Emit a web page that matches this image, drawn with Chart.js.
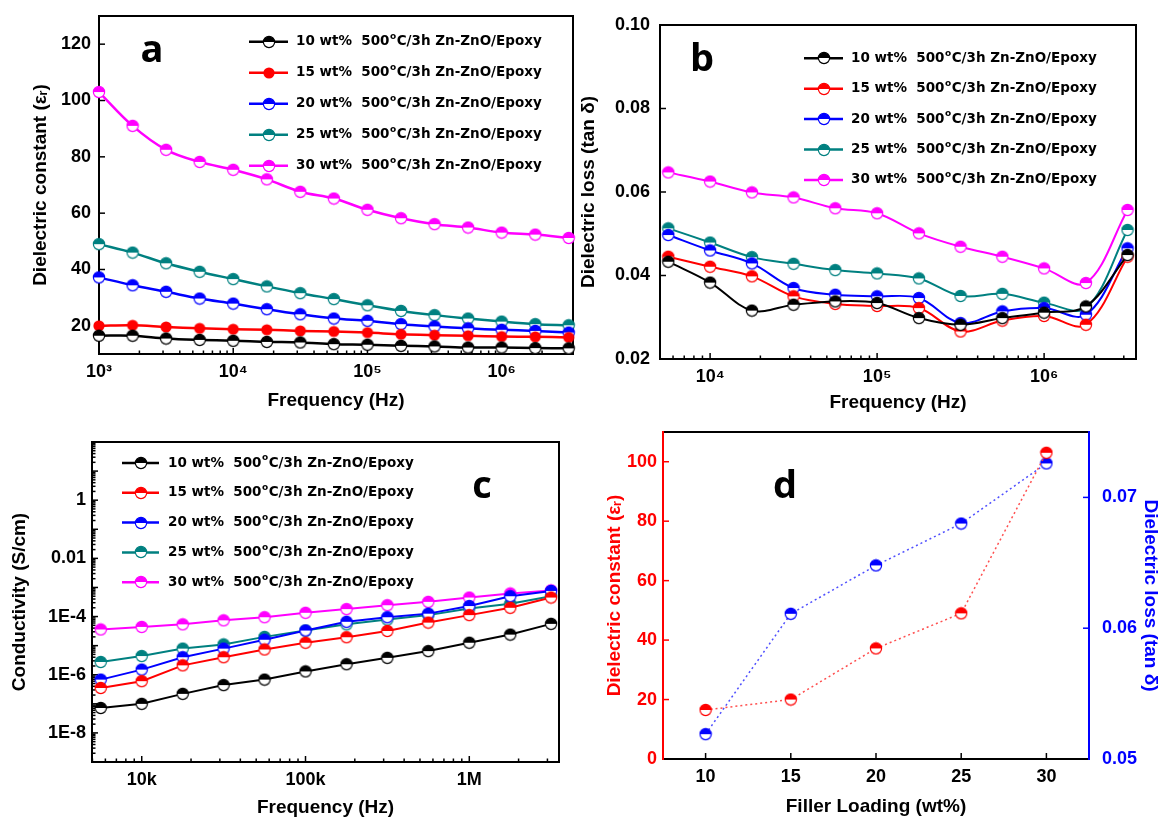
<!DOCTYPE html>
<html>
<head>
<meta charset="utf-8">
<title>Zn-ZnO/Epoxy dielectric properties</title>
<script src="https://cdn.jsdelivr.net/npm/chart.js@4.4.1/dist/chart.umd.min.js"></script>
<style>
  html, body { margin: 0; padding: 0; background: #ffffff; }
  #sheet { position: relative; width: 1163px; height: 821px; overflow: hidden; background: #ffffff; }
  #sheet canvas { position: absolute; }
</style>
</head>
<body>
<div id="sheet">
  <canvas id="panelA" width="580" height="415" style="left:0px;top:0px"></canvas>
  <canvas id="panelB" width="583" height="415" style="left:580px;top:0px"></canvas>
  <canvas id="panelC" width="580" height="406" style="left:0px;top:415px"></canvas>
  <canvas id="panelD" width="583" height="406" style="left:580px;top:415px"></canvas>
</div>
<script>
// ---- series description ----
const seriesNames  = ['10 wt%', '15 wt%', '20 wt%', '25 wt%', '30 wt%'];
const seriesColors = ['#000000', '#ff0000', '#0000ff', '#008080', '#ff00ff'];
const treatTemp = '500';
const treatSup  = 'o';
const treatTail = 'C/3h Zn-ZnO/Epoxy';

// ---- (a) dielectric constant vs frequency ----
const freqA = [1e3, 1.78e3, 3.16e3, 5.62e3, 1e4, 1.78e4, 3.16e4, 5.62e4, 1e5, 1.78e5, 3.16e5, 5.62e5, 1e6, 1.78e6, 3.16e6];
const eps10 = [16.5, 16.5, 15.5, 15.0, 14.7, 14.3, 14.1, 13.5, 13.3, 12.9, 12.7, 12.3, 12.3, 12.1, 12.0];
const eps15 = [20.0, 20.2, 19.6, 19.1, 18.8, 18.6, 18.2, 18.0, 17.6, 17.0, 16.7, 16.5, 16.2, 16.1, 15.9];
const eps20 = [37.2, 34.4, 32.1, 29.7, 27.9, 25.9, 24.1, 22.6, 21.8, 20.6, 19.8, 19.1, 18.6, 18.2, 17.6];
const eps25 = [49.0, 46.0, 42.2, 39.2, 36.6, 34.0, 31.6, 29.5, 27.3, 25.3, 23.8, 22.6, 21.5, 20.6, 20.2];
const eps30 = [103.0, 91.0, 82.5, 78.2, 75.4, 72.0, 67.6, 65.2, 61.2, 58.2, 56.1, 54.9, 53.1, 52.4, 51.2];

// ---- (b) dielectric loss and (c) conductivity vs frequency ----
const freqBC = [5.62e3, 1e4, 1.78e4, 3.16e4, 5.62e4, 1e5, 1.78e5, 3.16e5, 5.62e5, 1e6, 1.78e6, 3.16e6];
const loss10 = [0.0433, 0.0383, 0.0316, 0.0330, 0.0338, 0.0334, 0.0298, 0.0282, 0.0298, 0.0311, 0.0326, 0.0449];
const loss15 = [0.0445, 0.0421, 0.0398, 0.0350, 0.0332, 0.0327, 0.0322, 0.0266, 0.0292, 0.0303, 0.0282, 0.0445];
const loss20 = [0.0497, 0.0460, 0.0429, 0.0370, 0.0354, 0.0350, 0.0346, 0.0286, 0.0314, 0.0322, 0.0306, 0.0465];
const loss25 = [0.0513, 0.0479, 0.0444, 0.0428, 0.0413, 0.0405, 0.0393, 0.0351, 0.0356, 0.0335, 0.0322, 0.0509];
const loss30 = [0.0647, 0.0625, 0.0599, 0.0587, 0.0561, 0.0549, 0.0501, 0.0469, 0.0445, 0.0417, 0.0382, 0.0557];

const sig10 = [7.2e-8, 1.0e-7, 2.2e-7, 4.4e-7, 6.8e-7, 1.3e-6, 2.3e-6, 3.8e-6, 6.5e-6, 1.26e-5, 2.4e-5, 5.6e-5];
const sig15 = [3.5e-7, 6.0e-7, 2.1e-6, 4.0e-6, 7.4e-6, 1.26e-5, 1.95e-5, 3.2e-5, 6.2e-5, 1.12e-4, 2.0e-4, 4.5e-4];
const sig20 = [6.8e-7, 1.5e-6, 4.0e-6, 7.9e-6, 1.6e-5, 3.3e-5, 6.6e-5, 9.5e-5, 1.26e-4, 2.3e-4, 5.0e-4, 7.6e-4];
const sig25 = [2.75e-6, 4.4e-6, 7.9e-6, 1.1e-5, 2.0e-5, 3.3e-5, 5.4e-5, 7.9e-5, 1.12e-4, 1.9e-4, 2.75e-4, 5.0e-4];
const sig30 = [3.6e-5, 4.4e-5, 5.4e-5, 7.4e-5, 9.5e-5, 1.35e-4, 1.8e-4, 2.45e-4, 3.2e-4, 4.5e-4, 6.2e-4, 7.9e-4];

// ---- (d) values at 1 kHz vs filler loading ----
const loading = [10, 15, 20, 25, 30];
const epsAt1k  = [eps10[0], eps15[0], eps20[0], eps25[0], eps30[0]];
const lossAt1k = [0.0519, 0.0611, 0.0648, 0.0680, 0.0726];

// ---- tick values and labels ----
const decadeExpA = [3, 4, 5, 6];
const decadeLblA = ['10\u00b3', '10\u2074', '10\u2075', '10\u2076'];
const decadeExpB = [4, 5, 6];
const decadeLblB = ['10\u2074', '10\u2075', '10\u2076'];
const decadeExpCx = [4, 5, 6];
const decadeLblCx = ['10k', '100k', '1M'];
const decadeExpCy = [0, -2, -4, -6, -8];
const decadeLblCy = ['1', '0.01', '1E-4', '1E-6', '1E-8'];
const yTicksA  = [20, 40, 60, 80, 100, 120];
const yTicksB  = [0.02, 0.04, 0.06, 0.08, 0.10];
const xTicksD  = [10, 15, 20, 25, 30];
const yTicksD  = [0, 20, 40, 60, 80, 100];
const y1TicksD = [0.05, 0.06, 0.07];

// ---- shared styling ----
const SANS = "'Liberation Sans', Arial, 'DejaVu Sans', sans-serif";
const tickFont  = { family: SANS, size: 18, weight: 'bold' };
const titleFont = { family: SANS, size: 19, weight: 'bold', lineHeight: 1 };
Chart.defaults.font.family = SANS;

// circle marker, top half filled and bottom half open (or fully filled)
function marker(color, full) {
  const s = 14, m = s / 2, r = 5.6;
  const c = document.createElement('canvas');
  c.width = s; c.height = s;
  const g = c.getContext('2d');
  g.beginPath(); g.arc(m, m, r, 0, 2 * Math.PI);
  g.fillStyle = full ? color : '#ffffff'; g.fill();
  if (!full) {
    g.beginPath(); g.arc(m, m, r, Math.PI, 2 * Math.PI); g.closePath();
    g.fillStyle = color; g.fill();
    g.beginPath(); g.arc(m, m, r, 0, 2 * Math.PI);
    g.strokeStyle = color; g.lineWidth = 1.2; g.stroke();
  }
  return c;
}

function pts(xs, ys) { return xs.map((x, i) => ({ x: x, y: ys[i] })); }

function decadeLabel(exps, labels) {
  return function (value) {
    const lg = Math.log10(value);
    const k = Math.round(lg);
    if (Math.abs(lg - k) > 1e-6) return '';
    const i = exps.indexOf(k);
    return i >= 0 ? labels[i] : '';
  };
}

function fixedTicks(values) {
  return s => { s.ticks = values.map(v => ({ value: v })); };
}

function logMarks(min, max) {
  const out = [];
  for (let k = Math.floor(Math.log10(min)); k <= Math.ceil(Math.log10(max)); k++) {
    for (let m = 1; m <= 9; m++) {
      const v = m * Math.pow(10, k);
      if (v >= min * 0.9999 && v <= max * 1.0001) out.push({ v: v, major: m === 1 });
    }
  }
  return out;
}

// frame, inward tick marks, in-plot legend and panel letter
function decorations(cfg) {
  return {
    id: 'decorations',
    beforeDatasetsDraw(chart) {
      const ctx = chart.ctx, a = chart.chartArea;
      ctx.save();
      ctx.lineCap = 'butt';
      cfg.ticks.forEach(ax => {
        const sc = chart.scales[ax.id];
        const marks = ax.log ? logMarks(sc.min, sc.max) : sc.ticks.map(t => ({ v: t.value, major: true }));
        ctx.strokeStyle = ax.color;
        ctx.lineWidth = 1.5;
        marks.forEach(({ v, major }) => {
          const len = major ? 6 : 3.5;
          const p = sc.getPixelForValue(v);
          ctx.beginPath();
          if (ax.side === 'bottom') { ctx.moveTo(p, a.bottom); ctx.lineTo(p, a.bottom - len); }
          else if (ax.side === 'left') { ctx.moveTo(a.left, p); ctx.lineTo(a.left + len, p); }
          else { ctx.moveTo(a.right, p); ctx.lineTo(a.right - len, p); }
          ctx.stroke();
        });
      });
      const f = cfg.frame;
      ctx.lineWidth = 2;
      ctx.lineCap = 'square';
      const edge = (x1, y1, x2, y2, col) => {
        ctx.strokeStyle = col; ctx.beginPath(); ctx.moveTo(x1, y1); ctx.lineTo(x2, y2); ctx.stroke();
      };
      edge(a.left, a.top, a.right, a.top, f.top);
      edge(a.left, a.bottom, a.right, a.bottom, f.bottom);
      edge(a.left, a.top, a.left, a.bottom, f.left);
      edge(a.right, a.top, a.right, a.bottom, f.right);
      ctx.restore();
    },
    afterDatasetsDraw(chart) {
      const ctx = chart.ctx;
      ctx.save();
      if (cfg.legend) {
        const L = cfg.legend;
        chart.data.datasets.forEach((ds, i) => {
          const y = L.y + i * L.dy;
          ctx.strokeStyle = ds.borderColor;
          ctx.lineWidth = 2.5;
          ctx.beginPath(); ctx.moveTo(L.x, y); ctx.lineTo(L.x + L.len, y); ctx.stroke();
          const img = ds.pointStyle;
          ctx.drawImage(img, Math.round(L.x + L.len / 2 - img.width / 2), Math.round(y - img.height / 2));
          let tx = L.x + L.len + L.gap;
          ctx.fillStyle = '#000000';
          ctx.textBaseline = 'middle';
          ctx.textAlign = 'left';
          ctx.font = "bold 13.5px 'DejaVu Sans', sans-serif";
          const head = ds.label + '  ' + treatTemp;
          ctx.fillText(head, tx, y);
          tx += ctx.measureText(head).width + 0.5;
          ctx.font = "bold 9px 'DejaVu Sans', sans-serif";
          ctx.fillText(treatSup, tx, y - 5);
          tx += ctx.measureText(treatSup).width + 0.5;
          ctx.font = "bold 13.5px 'DejaVu Sans', sans-serif";
          ctx.fillText(treatTail, tx, y);
        });
      }
      const P = cfg.letter;
      ctx.fillStyle = '#000000';
      ctx.textAlign = 'center';
      ctx.textBaseline = 'alphabetic';
      ctx.font = "bold 38px 'Open Sans', 'DejaVu Sans', sans-serif";
      ctx.fillText(P.text, P.x, P.y);
      ctx.restore();
    }
  };
}

function freqDatasets(xs, ys, widths, tension, fullFirst) {
  return ys.map((arr, i) => ({
    label: seriesNames[i],
    data: pts(xs, arr),
    borderColor: seriesColors[i],
    backgroundColor: seriesColors[i],
    borderWidth: widths,
    tension: tension,
    pointStyle: marker(seriesColors[i], fullFirst && i === 1),
    clip: false
  }));
}

function baseScale(extra) {
  return Object.assign({
    grid: { display: false, drawTicks: false },
    border: { display: false }
  }, extra);
}

function fixBox(size, horizontal) {
  return s => {
    if (horizontal) { s.height = size; s.paddingLeft = 0; s.paddingRight = 0; }
    else { s.width = size; s.paddingTop = 0; s.paddingBottom = 0; }
  };
}

const common = {
  responsive: false,
  animation: false,
  events: [],
  plugins: { legend: { display: false }, tooltip: { enabled: false } }
};

// ---------- (a) ----------
new Chart(document.getElementById('panelA'), {
  type: 'line',
  data: { datasets: freqDatasets(freqA, [eps10, eps15, eps20, eps25, eps30], 2.5, 0.35, true) },
  options: Object.assign({}, common, {
    layout: { padding: { left: 0, top: 16, right: 7, bottom: 0 } },
    scales: {
      x: baseScale({
        type: 'logarithmic', position: 'bottom', min: 1e3, max: 3.4e6,
        ticks: { autoSkip: false, maxRotation: 0, padding: 7, font: tickFont, color: '#000', callback: decadeLabel(decadeExpA, decadeLblA) },
        title: { display: true, text: 'Frequency (Hz)', font: titleFont, color: '#000', padding: { top: 0, bottom: 4.5 } },
        afterFit: fixBox(61, true)
      }),
      y: baseScale({
        type: 'linear', position: 'left', min: 10, max: 130,
        afterBuildTicks: fixedTicks(yTicksA),
        ticks: { padding: 8, font: tickFont, color: '#000' },
        title: { display: true, text: 'Dielectric constant (\u03b5\u1d63)', font: titleFont, color: '#000', padding: { top: 31.5, bottom: 0 } },
        afterFit: fixBox(99, false)
      })
    }
  }),
  plugins: [decorations({
    ticks: [
      { id: 'x', side: 'bottom', color: '#000', log: true },
      { id: 'y', side: 'left', color: '#000', log: false }
    ],
    frame: { top: '#000', bottom: '#000', left: '#000', right: '#000' },
    legend: { x: 249, y: 41.7, dy: 31, len: 39, gap: 8 },
    letter: { text: 'a', x: 152, y: 62 }
  })]
});

// ---------- (b) ----------
new Chart(document.getElementById('panelB'), {
  type: 'line',
  data: { datasets: freqDatasets(freqBC, [loss10, loss15, loss20, loss25, loss30], 2, 0.35, false) },
  options: Object.assign({}, common, {
    layout: { padding: { left: 0, top: 25, right: 27, bottom: 0 } },
    scales: {
      x: baseScale({
        type: 'logarithmic', position: 'bottom', min: 5012, max: 3.55e6,
        ticks: { autoSkip: false, maxRotation: 0, padding: 7, font: tickFont, color: '#000', callback: decadeLabel(decadeExpB, decadeLblB) },
        title: { display: true, text: 'Frequency (Hz)', font: titleFont, color: '#000', padding: { top: 0, bottom: 2.5 } },
        afterFit: fixBox(56, true)
      }),
      y: baseScale({
        type: 'linear', position: 'left', min: 0.02, max: 0.10,
        afterBuildTicks: fixedTicks(yTicksB),
        ticks: { padding: 10, font: tickFont, color: '#000', callback: v => v.toFixed(2) },
        title: { display: true, text: 'Dielectric loss (tan \u03b4)', font: titleFont, color: '#000', padding: { top: -0.5, bottom: 0 } },
        afterFit: fixBox(80, false)
      })
    }
  }),
  plugins: [decorations({
    ticks: [
      { id: 'x', side: 'bottom', color: '#000', log: true },
      { id: 'y', side: 'left', color: '#000', log: false }
    ],
    frame: { top: '#000', bottom: '#000', left: '#000', right: '#000' },
    legend: { x: 224, y: 58.3, dy: 30.4, len: 39, gap: 8 },
    letter: { text: 'b', x: 122, y: 71 }
  })]
});

// ---------- (c) ----------
new Chart(document.getElementById('panelC'), {
  type: 'line',
  data: { datasets: freqDatasets(freqBC, [sig10, sig15, sig20, sig25, sig30], 2, 0, false) },
  options: Object.assign({}, common, {
    layout: { padding: { left: 0, top: 27, right: 21, bottom: 0 } },
    scales: {
      x: baseScale({
        type: 'logarithmic', position: 'bottom', min: 4970, max: 3.53e6,
        ticks: { autoSkip: false, maxRotation: 0, padding: 7, font: tickFont, color: '#000', callback: decadeLabel(decadeExpCx, decadeLblCx) },
        title: { display: true, text: 'Frequency (Hz)', font: titleFont, color: '#000', padding: { top: 0, bottom: 3.5 } },
        afterFit: fixBox(59, true)
      }),
      y: baseScale({
        type: 'logarithmic', position: 'left', min: 1e-9, max: 100,
        ticks: { autoSkip: false, padding: 6, font: tickFont, color: '#000', callback: decadeLabel(decadeExpCy, decadeLblCy) },
        title: { display: true, text: 'Conductivity (S/cm)', font: titleFont, color: '#000', padding: { top: 10.5, bottom: 0 } },
        afterFit: fixBox(92, false)
      })
    }
  }),
  plugins: [decorations({
    ticks: [
      { id: 'x', side: 'bottom', color: '#000', log: true },
      { id: 'y', side: 'left', color: '#000', log: true }
    ],
    frame: { top: '#000', bottom: '#000', left: '#000', right: '#000' },
    legend: { x: 122, y: 48, dy: 29.8, len: 37, gap: 9 },
    letter: { text: 'c', x: 482, y: 83 }
  })]
});

// ---------- (d) ----------
new Chart(document.getElementById('panelD'), {
  type: 'line',
  data: {
    datasets: [
      {
        label: 'Dielectric constant', data: pts(loading, epsAt1k), yAxisID: 'y',
        borderColor: 'rgba(255,60,60,0.9)', borderWidth: 1.5, borderDash: [2, 3],
        pointStyle: marker('#ff0000', false), tension: 0, clip: false
      },
      {
        label: 'Dielectric loss', data: pts(loading, lossAt1k), yAxisID: 'y1',
        borderColor: 'rgba(60,60,255,0.9)', borderWidth: 1.5, borderDash: [2, 3],
        pointStyle: marker('#0000ff', false), tension: 0, clip: false
      }
    ]
  },
  options: Object.assign({}, common, {
    layout: { padding: { left: 0, top: 17, right: 0, bottom: 0 } },
    scales: {
      x: baseScale({
        type: 'linear', position: 'bottom', min: 7.5, max: 32.5,
        afterBuildTicks: fixedTicks(xTicksD),
        ticks: { maxRotation: 0, padding: 7, font: tickFont, color: '#000' },
        title: { display: true, text: 'Filler Loading (wt%)', font: titleFont, color: '#000', padding: { top: 0, bottom: 4.5 } },
        afterFit: fixBox(62, true)
      }),
      y: baseScale({
        type: 'linear', position: 'left', min: 0, max: 110,
        afterBuildTicks: fixedTicks(yTicksD),
        ticks: { padding: 6, font: tickFont, color: '#ff0000' },
        title: { display: true, text: 'Dielectric constant (\u03b5\u1d63)', font: titleFont, color: '#ff0000', padding: { top: 25.5, bottom: 0 } },
        afterFit: fixBox(83, false)
      }),
      y1: baseScale({
        type: 'linear', position: 'right', min: 0.05, max: 0.075,
        afterBuildTicks: fixedTicks(y1TicksD),
        ticks: { padding: 13, font: tickFont, color: '#0000ff', callback: v => v.toFixed(2) },
        title: { display: true, text: 'Dielectric loss (tan \u03b4)', font: titleFont, color: '#0000ff', padding: { top: 3.5, bottom: 0 } },
        afterFit: fixBox(74, false)
      })
    }
  }),
  plugins: [decorations({
    ticks: [
      { id: 'x', side: 'bottom', color: '#000', log: false },
      { id: 'y', side: 'left', color: '#ff0000', log: false },
      { id: 'y1', side: 'right', color: '#0000ff', log: false }
    ],
    frame: { top: '#000', bottom: '#000', left: '#ff0000', right: '#0000ff' },
    legend: null,
    letter: { text: 'd', x: 205, y: 83 }
  })]
});
</script>
</body>
</html>
